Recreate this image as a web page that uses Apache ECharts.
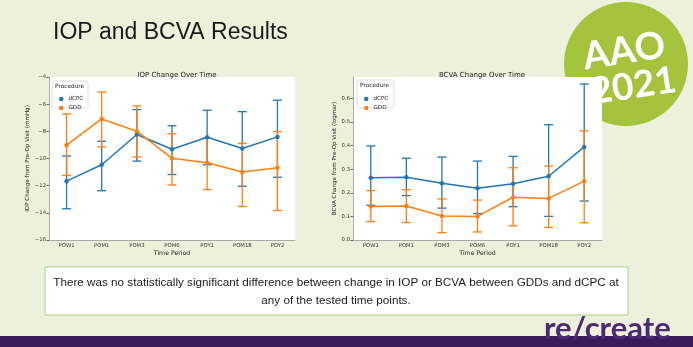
<!DOCTYPE html>
<html><head><meta charset="utf-8">
<script src="https://cdn.jsdelivr.net/npm/echarts@6/dist/echarts.min.js"></script>
<style>html,body{margin:0;padding:0;background:#edf1db;overflow:hidden}
#wrap{position:relative;width:693px;height:347px}
#bg,#c{position:absolute;left:0;top:0;width:693px;height:347px}</style>
</head><body><div id="wrap"><div id="bg"></div><div id="c"></div></div>
<script>
// ---- data ----
const categories = ['POW1','POM1','POM3','POM6','POY1','POM18','POY2'];
const iopTicks = [-16,-14,-12,-10,-8,-6,-4];
const bcvaTicks = [0.0,0.1,0.2,0.3,0.4,0.5,0.6];

const iopDcpc     = [-11.67,-10.46,-8.23,-9.32,-8.43,-9.27,-8.41];
const iopDcpcLow  = [-13.70,-12.37,-10.19,-11.18,-10.46,-12.04,-11.38];
const iopDcpcHigh = [-9.82,-8.73,-6.40,-7.59,-6.45,-6.55,-5.71];
const iopGdd      = [-9.02,-7.09,-7.99,-9.99,-10.31,-11.00,-10.68];
const iopGddLow   = [-11.25,-9.15,-9.89,-11.95,-12.29,-13.53,-13.83];
const iopGddHigh  = [-6.72,-5.11,-6.13,-8.18,-8.50,-8.88,-8.01];

const bcvaDcpc     = [0.263,0.266,0.240,0.219,0.238,0.270,0.394];
const bcvaDcpcLow  = [0.147,0.188,0.135,0.112,0.141,0.100,0.165];
const bcvaDcpcHigh = [0.398,0.346,0.351,0.334,0.354,0.488,0.660];
const bcvaGdd      = [0.142,0.144,0.102,0.100,0.181,0.176,0.249];
const bcvaGddLow   = [0.078,0.074,0.031,0.034,0.060,0.053,0.073];
const bcvaGddHigh  = [0.209,0.213,0.174,0.169,0.306,0.313,0.462];

const BLUE = '#1f77b4', ORANGE = '#ff7f0e';
const FONT = 'DejaVu Sans';
const G1 = {left:49, top:77, width:246, height:163};
const G2 = {left:353, top:77, width:249, height:163};

function lineSeries(name, idx, vals, color){
  return {type:'line', name, xAxisIndex:idx, yAxisIndex:idx, data:vals,
    symbol:'circle', symbolSize:4.5, showSymbol:true,
    lineStyle:{color, width:1.5}, itemStyle:{color}, z:3, silent:true, animation:false};
}
function errSeries(name, idx, lows, highs, color){
  return {type:'custom', name, xAxisIndex:idx, yAxisIndex:idx,
    data: categories.map((c,i)=>[i,lows[i],highs[i]]),
    encode:{x:0,y:[1,2]}, z:3, silent:true, animation:false,
    renderItem:(params, api)=>{
      const lo = api.coord([api.value(0), api.value(1)]);
      const hi = api.coord([api.value(0), api.value(2)]);
      const w = 4.5, st = {stroke:color, lineWidth:1.3};
      return {type:'group', children:[
        {type:'line', shape:{x1:lo[0],y1:lo[1],x2:hi[0],y2:hi[1]}, style:st},
        {type:'line', shape:{x1:lo[0]-w,y1:lo[1],x2:lo[0]+w,y2:lo[1]}, style:st},
        {type:'line', shape:{x1:hi[0]-w,y1:hi[1],x2:hi[0]+w,y2:hi[1]}, style:st}
      ]};
    }};
}
function xAxis(idx){
  return {type:'category', gridIndex:idx, data:categories, boundaryGap:true,
    name:'Time Period', nameLocation:'middle', nameGap:10,
    nameTextStyle:{fontFamily:FONT, fontSize:6.2, color:'#222'},
    axisLine:{lineStyle:{color:'#999', width:0.8}},
    axisTick:{alignWithLabel:true, length:2.5, lineStyle:{color:'#666'}},
    axisLabel:{fontFamily:FONT, fontSize:5.3, color:'#333', margin:3, interval:0},
    splitLine:{show:false}};
}
function yAxis(idx, min, max, interval, name, fmt, showMax){
  return {type:'value', gridIndex:idx, min, max, interval,
    name, nameLocation:'middle', nameGap:15,
    nameTextStyle:{fontFamily:FONT, fontSize:5.6, color:'#222'},
    axisLine:{show:true, lineStyle:{color:'#999', width:0.8}},
    axisTick:{show:true, length:2.5, lineStyle:{color:'#666'}},
    axisLabel:{fontFamily:FONT, fontSize:5.3, color:'#333', margin:3, formatter:fmt, showMaxLabel:showMax},
    splitLine:{show:false}};
}

// background decoration layer (conference badge)
const bg = echarts.init(document.getElementById('bg'), null, {renderer:'canvas'});
bg.setOption({
  backgroundColor:'#edf1db', animation:false,
  graphic:[
    {type:'circle', shape:{cx:626, cy:64, r:62}, style:{fill:'#a6c33d'}, silent:true},
    {type:'group', x:626, y:64, rotation:0.15, silent:true, children:[
      {type:'text', x:0, y:-13, style:{text:'AAO', fill:'#ffffff', font:'bold 38px Lato', textAlign:'center', textVerticalAlign:'middle'}},
      {type:'text', x:4, y:23, style:{text:'2021', fill:'#ffffff', font:'bold 37px Lato', textAlign:'center', textVerticalAlign:'middle'}}
    ]}
  ]
});

const chart = echarts.init(document.getElementById('c'), null, {renderer:'canvas'});
const legendCommon = {orient:'vertical', icon:'circle', itemWidth:4.5, itemHeight:4.5, itemGap:3,
  textStyle:{fontFamily:FONT, fontSize:5.6, color:'#222'}, selectedMode:false, z:7,
  data:[{name:'dCPC', itemStyle:{color:BLUE}},{name:'GDD', itemStyle:{color:ORANGE}}]};

chart.setOption({
  backgroundColor:'transparent',
  animation:false,
  grid:[
    Object.assign({show:true, backgroundColor:'#ffffff', borderWidth:0}, G1),
    Object.assign({show:true, backgroundColor:'#ffffff', borderWidth:0}, G2)
  ],
  title:[
    {text:'IOP Change Over Time', left:172, top:67, textAlign:'center',
      textStyle:{fontFamily:FONT, fontSize:7, fontWeight:'normal', color:'#222'}},
    {text:'BCVA Change Over Time', left:477, top:67, textAlign:'center',
      textStyle:{fontFamily:FONT, fontSize:7, fontWeight:'normal', color:'#222'}}
  ],
  legend:[
    Object.assign({left:54, top:91}, legendCommon),
    Object.assign({left:359, top:91}, legendCommon)
  ],
  xAxis:[xAxis(0), xAxis(1)],
  yAxis:[
    yAxis(0, iopTicks[0], iopTicks[iopTicks.length-1], 2, 'IOP Change from Pre-Op Visit (mmHg)',
      v => (v<0 ? '\u2212' + Math.abs(v) : String(v)), true),
    yAxis(1, bcvaTicks[0], 0.69, 0.1, 'BCVA Change from Pre-Op Visit (logmar)',
      v => v.toFixed(1), false)
  ],
  series:[
    lineSeries('dCPC',0,iopDcpc,BLUE), errSeries('dCPC',0,iopDcpcLow,iopDcpcHigh,BLUE),
    lineSeries('GDD',0,iopGdd,ORANGE), errSeries('GDD',0,iopGddLow,iopGddHigh,ORANGE),
    lineSeries('dCPC',1,bcvaDcpc,BLUE), errSeries('dCPC',1,bcvaDcpcLow,bcvaDcpcHigh,BLUE),
    lineSeries('GDD',1,bcvaGdd,ORANGE), errSeries('GDD',1,bcvaGddLow,bcvaGddHigh,ORANGE)
  ],
  graphic:[
    {type:'text', x:53, y:21, style:{text:'IOP and BCVA Results', fill:'#1a1a1a', font:'23px "Liberation Sans"'}},
    // legend boxes
    {type:'rect', shape:{x:52, y:81, width:36, height:27, r:2}, style:{fill:'rgba(255,255,255,0.9)', stroke:'#d6d6d6', lineWidth:0.8}},
    {type:'text', x:55, y:83, style:{text:'Procedure', fill:'#222', font:'5.8px "DejaVu Sans"'}},
    {type:'rect', shape:{x:357, y:80, width:37, height:28, r:2}, style:{fill:'rgba(255,255,255,0.9)', stroke:'#d6d6d6', lineWidth:0.8}},
    {type:'text', x:360, y:82, style:{text:'Procedure', fill:'#222', font:'5.8px "DejaVu Sans"'}},
    // statement box
    {type:'rect', shape:{x:45, y:267, width:583, height:48}, style:{fill:'#ffffff', stroke:'#a9d18e', lineWidth:1}},
    {type:'text', x:336, y:283, style:{text:'There was no statistically significant difference between change in IOP or BCVA between GDDs and dCPC at', fill:'#1a1a1a', font:'11.7px "Liberation Sans"', textAlign:'center', textVerticalAlign:'middle'}},
    {type:'text', x:336, y:301, style:{text:'any of the tested time points.', fill:'#1a1a1a', font:'11.7px "Liberation Sans"', textAlign:'center', textVerticalAlign:'middle'}},
    // footer
    {type:'rect', shape:{x:0, y:336, width:693, height:11}, style:{fill:'#3b1c5a'}},
    {type:'text', x:544, y:313, style:{text:'re/create', fill:'#4a2a72', font:'bold 31px Lato'}}
  ]
});
</script></body></html>
